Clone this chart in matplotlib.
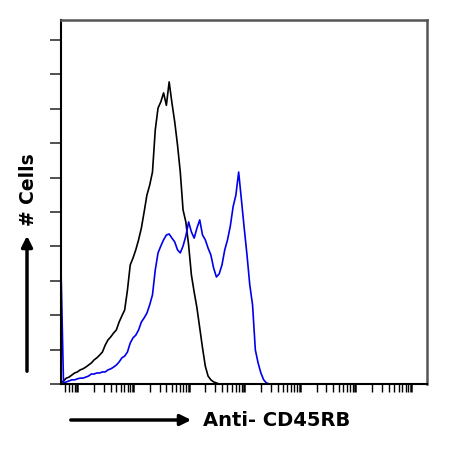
import numpy as np
import matplotlib
matplotlib.use("Agg")
import matplotlib.pyplot as plt
from matplotlib.ticker import LogLocator, NullFormatter, MultipleLocator

# channel positions (log10 of fluorescence)
chan_log = [-0.30, -0.25, -0.20, -0.15, -0.10, -0.05, 0.00, 0.05, 0.10, 0.15,
            0.20, 0.25, 0.30, 0.35, 0.40, 0.45, 0.50, 0.55, 0.60, 0.65,
            0.70, 0.75, 0.80, 0.85, 0.90, 0.95, 1.00, 1.05, 1.10, 1.15,
            1.20, 1.25, 1.30, 1.35, 1.40, 1.45, 1.50, 1.55, 1.60, 1.65,
            1.70, 1.75, 1.80, 1.85, 1.90, 1.95, 2.00, 2.05, 2.10, 2.15,
            2.20, 2.25, 2.30, 2.35, 2.40, 2.45, 2.50, 2.55, 2.60, 2.65,
            2.70, 2.75, 2.80, 2.85, 2.90, 2.95, 3.00, 3.05, 3.10, 3.15,
            3.20, 3.25, 3.30, 3.35, 3.40, 3.45]

# isotype control (black)
control = [0.3, 0.9, 1.7, 2.0, 2.6, 3.2, 3.5, 4.1, 4.4, 4.9,
           5.5, 6.1, 7.0, 7.6, 8.4, 9.3, 11.3, 12.8, 13.7, 14.8,
           15.7, 18.0, 19.8, 21.5, 27.3, 34.6, 36.6, 39.0, 41.9, 45.3,
           50.0, 54.9, 57.8, 61.6, 73.8, 80.2, 82.0, 84.6, 81.0, 87.8,
           81.7, 76.2, 69.5, 61.6, 50.6, 47.1, 40.4, 31.7, 26.7, 22.1,
           16.3, 10.5, 5.2, 2.3, 1.2, 0.6, 0.3, 0.0, 0.0, 0.0,
           0.0, 0.0, 0.0, 0.0, 0.0, 0.0, 0.0, 0.0, 0.0, 0.0,
           0.0, 0.0, 0.0, 0.0, 0.0, 0.0]

# Anti-CD45RB (blue)
cd45rb = [36.9, 0.3, 0.6, 0.9, 1.2, 1.2, 1.5, 1.7, 1.7, 2.0,
          2.3, 2.9, 2.9, 3.2, 3.2, 3.5, 3.5, 4.1, 4.4, 4.9,
          5.5, 6.4, 7.6, 8.1, 9.3, 11.9, 13.4, 14.2, 15.7, 18.0,
          19.2, 20.6, 23.0, 25.9, 33.1, 38.1, 40.1, 41.9, 43.3, 43.6,
          42.4, 41.3, 39.0, 38.1, 40.1, 43.0, 47.1, 44.2, 42.4, 45.3,
          47.7, 43.3, 41.9, 39.5, 37.5, 33.7, 31.1, 32.0, 34.6, 39.0,
          41.9, 45.9, 51.5, 54.9, 61.6, 53.5, 45.3, 37.5, 28.8, 23.0,
          9.9, 6.1, 3.2, 1.2, 0.3, 0.0]

x = 10 ** np.array(chan_log)

fig = plt.figure(figsize=(4.57, 4.51), dpi=100)
ax = fig.add_axes([0.1335, 0.1486, 0.8009, 0.8071])

ax.plot(x, control, color='black', lw=1.2)
ax.plot(x, cd45rb, color='#0000ee', lw=1.2)

ax.set_xscale('log')
ax.set_xlim(0.507, 1.94e6)
ax.set_ylim(0, 105.8)

ax.xaxis.set_major_locator(LogLocator(base=10, numticks=20))
ax.xaxis.set_minor_locator(LogLocator(base=10, subs=np.arange(2, 10), numticks=20))
ax.xaxis.set_major_formatter(NullFormatter())
ax.xaxis.set_minor_formatter(NullFormatter())
ax.yaxis.set_major_locator(MultipleLocator(10))
ax.yaxis.set_major_formatter(NullFormatter())

ax.tick_params(axis='x', which='major', direction='out', length=6, width=1.8, color='black')
ax.tick_params(axis='x', which='minor', direction='out', length=5.5, width=1.0, color='black')
ax.tick_params(axis='y', which='major', direction='out', length=8, width=1.2, color='#333333')

for s in ['left', 'bottom']:
    ax.spines[s].set_color('black')
    ax.spines[s].set_linewidth(1.5)
for s in ['top', 'right']:
    ax.spines[s].set_color('#555555')
    ax.spines[s].set_linewidth(1.8)

# axis labels with arrows, drawn in figure space
W, H = 457, 451
fig.text(28 / W, 1 - 190 / H, '# Cells', rotation=90, ha='center', va='center',
         fontsize=13.5, fontweight='bold')
ax.annotate('', xy=(27 / W, 1 - 233 / H), xytext=(27 / W, 1 - 374 / H),
            xycoords='figure fraction', textcoords='figure fraction',
            arrowprops=dict(arrowstyle='-|>', lw=2.5, color='black', mutation_scale=16))

fig.text(203 / W, 1 - 420 / H, 'Anti- CD45RB', ha='left', va='center',
         fontsize=14, fontweight='bold')
ax.annotate('', xy=(194 / W, 1 - 420 / H), xytext=(68 / W, 1 - 420 / H),
            xycoords='figure fraction', textcoords='figure fraction',
            arrowprops=dict(arrowstyle='-|>', lw=2.5, color='black', mutation_scale=16))

fig.savefig('out.png', dpi=100)
